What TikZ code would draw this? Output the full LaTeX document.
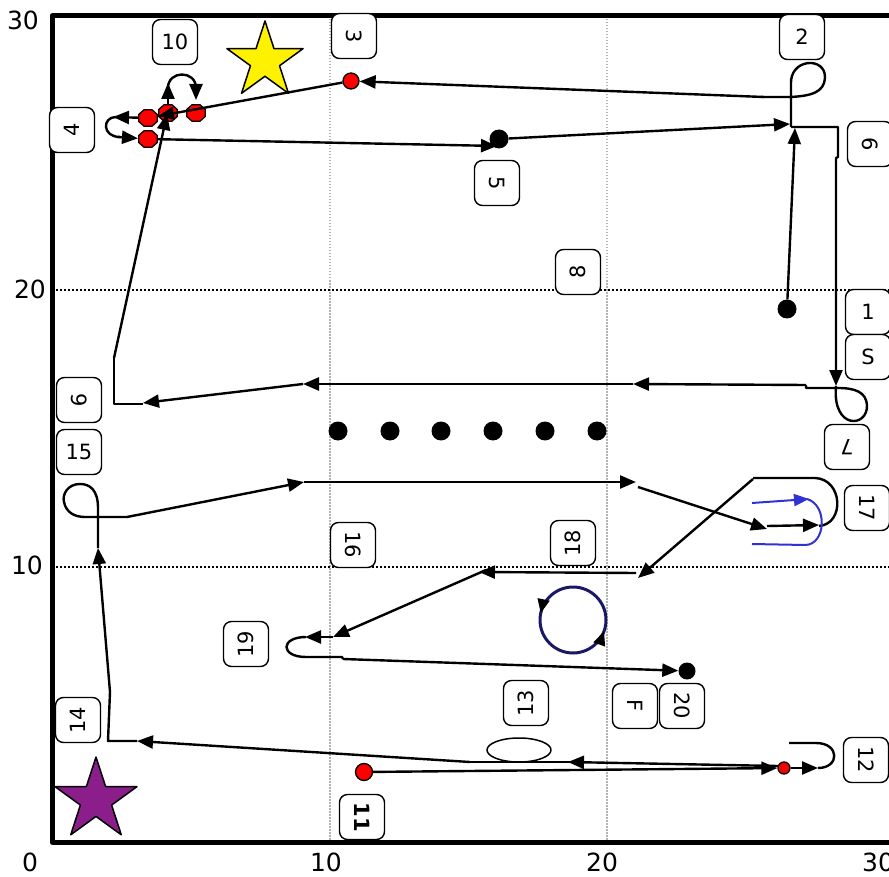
\documentclass[tikz,border=0pt]{standalone}
\usepackage{fontspec}
\setmainfont{DejaVu Sans}
\usetikzlibrary{arrows.meta,shapes.geometric}
\definecolor{starpurple}{RGB}{140,30,140}
\definecolor{loopblue}{RGB}{50,50,210}
\definecolor{navyring}{RGB}{25,25,100}
\begin{document}
\begin{tikzpicture}[x=1pt,y=-1pt,line join=round,
  pathline/.style={line width=2.4pt},
  arr/.style={pathline,-{Triangle[length=16pt,width=13pt]}},
  lbl/.style={draw,line width=1.4pt,rounded corners=8pt,fill=white,minimum width=45pt,minimum height=45pt,inner sep=0pt,font=\fontsize{21}{25}\selectfont},
  reddot/.style={circle,draw,line width=1.3pt,fill=red,minimum size=16pt,inner sep=0pt},
  octo/.style={regular polygon,regular polygon sides=8,draw,line width=1.3pt,fill=red,minimum size=18pt,inner sep=0pt,xscale=1.12},
  bdot/.style={circle,fill=black,minimum size=19pt,inner sep=0pt},
  ax/.style={font=\fontsize{25}{30}\selectfont,inner sep=0pt}]
\clip (0,0) rectangle (889,877);
% grid
\draw[gray!60,line width=2pt,dash pattern=on 1.5pt off 1.5pt] (330,16) -- (330,842);
\draw[gray!60,line width=2pt,dash pattern=on 1.5pt off 1.5pt] (607,16) -- (607,842);
\draw[line width=1.8pt,dash pattern=on 2pt off 2pt] (52,290) -- (889,290);
\draw[line width=1.8pt,dash pattern=on 2pt off 2pt] (52,567) -- (889,567);
% frame
\draw[line width=5pt] (905,16) -- (52,16) -- (52,842) -- (905,842);
% axis labels
\node[ax] (y30) at (23,20) {30};
\node[ax] (y20) at (30,289) {20};
\node[ax] (y10) at (27,565) {10};
\node[ax] (x0) at (30,862) {0};
\node[ax] (x10) at (326,862) {10};
\node[ax] (x20) at (602,862) {20};
\node[ax] (x30) at (878,862) {30};
% stars
\node[star,star points=5,star point ratio=2.618,draw,line width=1.5pt,fill=yellow,minimum size=80pt,inner sep=0pt] (ystar) at (265,61) {};
\node[star,star points=5,star point ratio=2.618,draw,line width=1.5pt,fill=starpurple,minimum size=86pt,inner sep=0pt] (pstar) at (96,800) {};
% dots
\foreach \i/\x in {1/338,2/390,3/441,4/493,5/545,6/597} \node[bdot] (r\i) at (\x,431) {};
\node[bdot] (p1) at (787,309) {};
\node[bdot] (p5) at (499,139) {};
\node[bdot,minimum size=17pt] (p20) at (687,671) {};
\node[reddot] (p3) at (351,81) {};
\node[reddot,minimum size=17pt] (p11) at (364,772) {};
\node[reddot,minimum size=12pt] (p12) at (784,768) {};
\node[octo] (oA) at (148,118) {};
\node[octo] (oB) at (168,113) {};
\node[octo] (oC) at (196,113) {};
\node[octo] (oD) at (148,139) {};
\node[ellipse,draw,line width=1.5pt,fill=white,minimum width=64pt,minimum height=24pt,inner sep=0pt] (e13) at (519,750) {};
% labels
\node[lbl] (l10) at (175,42) {10};
\node[lbl,rotate=-90] (l3) at (354,36) {3};
\node[lbl,rotate=90] (l4) at (72,130) {4};
\node[lbl,rotate=-90] (l5) at (497,183) {5};
\node[lbl] (l2) at (802,37) {2};
\node[lbl,rotate=-90] (l6) at (870,144) {6};
\node[lbl,rotate=90] (l8) at (578,272) {8};
\node[lbl] (l1) at (868,312) {1};
\node[lbl] (lS) at (868,357) {S};
\node[lbl,rotate=180] (l7) at (847,447) {7};
\node[lbl,rotate=-90] (l9) at (79,400) {9};
\node[lbl] (l15) at (79,452) {15};
\node[lbl,rotate=-90] (l17) at (867,508) {17};
\node[lbl,rotate=-90] (l16) at (353,545) {16};
\node[lbl,rotate=90] (l18) at (573,543) {18};
\node[lbl,rotate=90] (l19) at (246,644) {19};
\node[lbl,rotate=90] (l13) at (526,703) {13};
\node[lbl,rotate=-90] (lF) at (635,706) {F};
\node[lbl,rotate=-90] (l20) at (682,706) {20};
\node[lbl,rotate=90] (l14) at (78,720) {14};
\node[lbl,rotate=-90] (l11) at (362,817) {\textbf{11}};
\node[lbl,rotate=-90] (l12) at (866,760) {12};
% route: start dot up to 6
\draw[arr] (p1) -- (795,128);
\draw[arr] (791,127) -- (838,127) -- (838,157) -- (836,158) -- (836,386);
% loop 2 and line to 3
\draw[pathline] (791,127) -- (791,85) .. controls (789,58) and (826,56) .. (825,78) .. controls (824,92) and (812,96) .. (790,97) -- (762,97);
\draw[arr] (764,97) -- (p3);
\draw[arr] (p3) -- (oA);
% loop 4
\draw[arr] (oA) -- (113,117);
\draw[pathline] (116,117) .. controls (102,117) and (102,137) .. (120,137);
\draw[arr] (118,137) -- (oD);
% loop 10
\draw[arr] (oB) -- (168,83);
\draw[pathline] (168,88) .. controls (168,70) and (196,70) .. (196,88);
\draw[arr] (196,86) -- (196,100);
% 4 -> 5 -> 6
\draw[arr] (oD) -- (497,146);
\draw[arr] (p5) -- (790,124);
% loop 7 and leftwards
\draw[pathline] (836,386) .. controls (832,430) and (868,428) .. (867,405) .. controls (866,392) and (855,388) .. (838,388) -- (806,388) -- (806,385);
\draw[arr] (806,385) -- (633,384);
\draw[arr] (633,384) -- (303,384);
\draw[arr] (303,384) -- (143,403);
\draw[pathline] (143,404) -- (114,404) -- (114,358);
\draw[arr] (114,358) -- (167,114);
% lower part: 11 -> 12
\draw[arr] (p11) -- (p12);
\draw[arr] (p12) -- (818,768);
\draw[pathline] (818,768) .. controls (840,768) and (840,743) .. (816,743) -- (789,743);
\draw[arr] (778,766) -- (568,762);
\draw[pathline] (570,762) -- (470,762);
\draw[arr] (470,762) -- (137,741);
\draw[pathline] (137,741) -- (108,741) -- (110,692);
% 14 -> 15 loop
\draw[arr] (110,692) -- (98,548);
\draw[pathline] (98,548) -- (98,508) .. controls (98,490) and (90,484) .. (80,484) .. controls (68,484) and (62,494) .. (64,502) .. controls (66,512) and (74,517) .. (85,517) -- (127,517);
\draw[arr] (127,517) -- (304,482);
\draw[arr] (304,482) -- (636,482);
\draw[arr] (638,487) -- (767,529);
\draw[arr] (767,526) -- (819,525);
\draw[pathline] (819,526) .. controls (845,524) and (843,479) .. (815,478) -- (753,478);
\draw[arr] (753,479) -- (638,578);
% blue loop
\draw[loopblue,line width=2pt,-{Triangle[length=15pt,width=12pt]}] (752,503) -- (809,499);
\draw[loopblue,line width=2pt] (807,499) .. controls (828,505) and (826,545) .. (805,545) -- (752,544);
% 18 -> 19 -> 20
\draw[arr] (636,573) -- (479,572);
\draw[arr] (486,570) -- (333,637);
\draw[arr] (333,637) -- (305,637);
\draw[pathline] (306,637) .. controls (280,637) and (280,657) .. (306,657) -- (342,657) -- (343,659);
\draw[arr] (343,659) -- (p20);
% circle
\draw[navyring,line width=3pt] (573,620) circle (33);
\draw[-{Triangle[length=14pt,width=12pt]},line width=2pt] (543.2,601.4) -- (540.7,613.1);
\draw[-{Triangle[length=14pt,width=12pt]},line width=2pt] (599.9,642.6) -- (604,631.3);
\end{tikzpicture}
\end{document}
